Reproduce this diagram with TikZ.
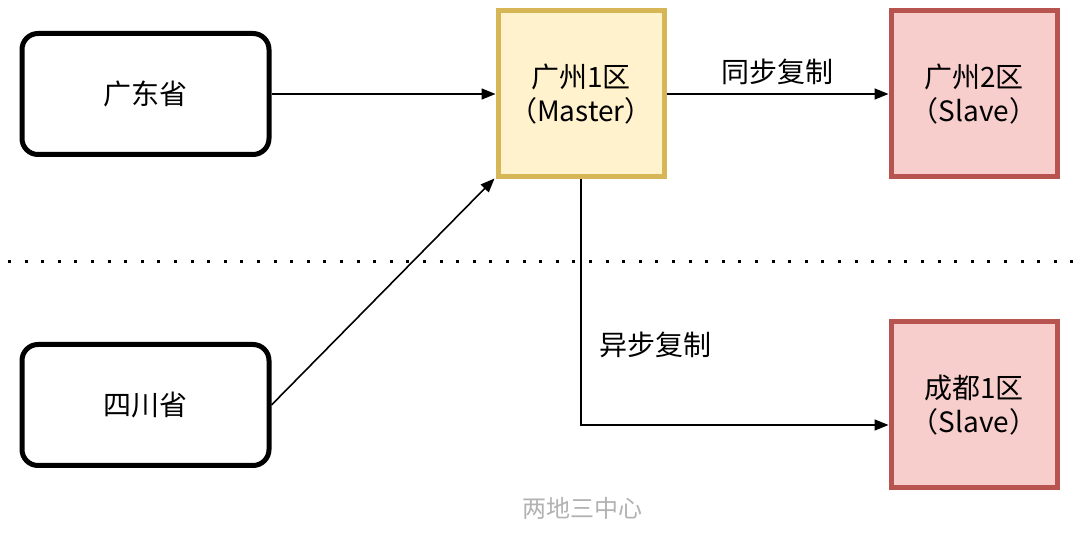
\documentclass[tikz,border=0pt]{standalone}
\usepackage{fontspec}
\setmainfont{Noto Sans CJK SC}
\usetikzlibrary{arrows.meta,calc}
\begin{document}
\begin{tikzpicture}[x=1pt,y=-1pt,
  prov/.style={draw=black,line width=5pt,rounded corners=16pt,fill=white,minimum width=247pt,minimum height=121pt,inner sep=0pt,font=\fontsize{28}{34}\selectfont,align=center},
  master/.style={draw=mastline,fill=mastfill,line width=5pt,minimum width=166pt,minimum height=166pt,inner sep=0pt,font=\fontsize{28}{34}\selectfont,align=center},
  slave/.style={draw=slvline,fill=slvfill,line width=5pt,minimum width=166pt,minimum height=166pt,inner sep=0pt,font=\fontsize{28}{34}\selectfont,align=center},
  conn/.style={line width=1.6pt,-{Triangle[length=14pt,width=11pt]}},
  lbl/.style={font=\fontsize{28}{32}\selectfont,inner sep=0pt}]
\definecolor{mastline}{HTML}{D6B656}
\definecolor{mastfill}{HTML}{FFF2CC}
\definecolor{slvline}{HTML}{B85450}
\definecolor{slvfill}{HTML}{F8CECC}
\useasboundingbox (0,0) rectangle (1080,534);
\fill[white] (0,0) rectangle (1080,534);
\node[prov] (gd) at (145.5,94) {广东省};
\node[prov] (sc) at (145.5,405) {四川省};
\node[master] (m) at (581,94) {广州1区\\（Master）};
\node[slave] (gz2) at (974,94) {广州2区\\（Slave）};
\node[slave] (cd) at (974,405) {成都1区\\（Slave）};
\draw[line width=3pt,dash pattern=on 3pt off 13.6pt] (8,262) -- (1078,262);
\draw[conn] (gd.east) -- (m.west);
\draw[conn] (sc.east) -- ([xshift=-1pt,yshift=1pt]m.south west);
\draw[conn] (m.east) -- node[lbl,above=8pt] {同步复制} (gz2.west);
\draw[conn] (m.south) |- ([yshift=-20pt]cd.west);
\node[lbl] (l2) at (655,345) {异步复制};
\node[font=\fontsize{24}{28}\selectfont,text=black!30] (cap) at (582,508) {两地三中心};
\end{tikzpicture}
\end{document}
